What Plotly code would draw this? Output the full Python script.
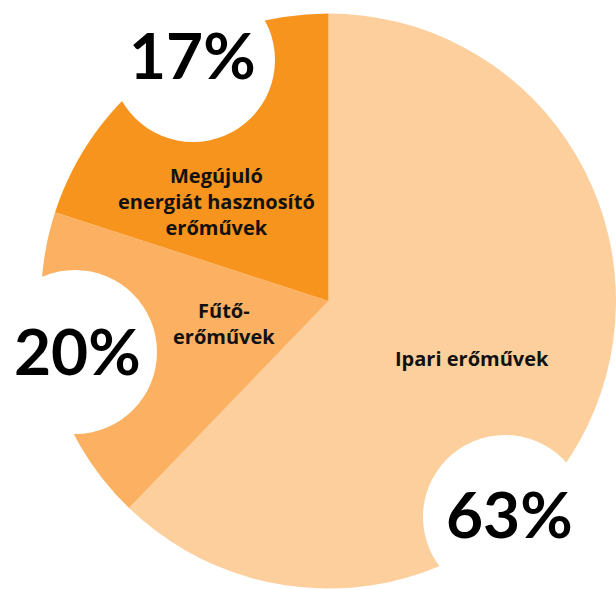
import plotly.graph_objects as go

W, H = 616, 590
OFF = 0  # page body margin is removed below, so figure pixels = screen pixels

# Data (slice sizes, printed percentages as labelled)
categories = ["Ipari erőművek", "Fűtő-<br>erőművek", "Megújuló<br>energiát hasznosító<br>erőművek"]
values = [62.2, 17.8, 20.0]
pct_labels = ["63%", "20%", "17%"]
colors = ["#FDCF9C", "#FBB062", "#F7941D"]


def px(x):
    return (x - OFF) / W


def py(y):
    return 1 - (y - OFF) / H


# pie placement (screen pixels): centre (329, 301), radius 288
PCX, PCY, PR = 329, 301, 288

fig = go.Figure()
fig.add_trace(go.Pie(
    labels=categories,
    values=values,
    sort=False,
    direction="clockwise",
    rotation=0,
    textinfo="none",
    hoverinfo="label+percent",
    marker=dict(colors=colors, line=dict(width=0)),
    domain=dict(x=[px(PCX - PR), min(1.0, px(PCX + PR))], y=[py(PCY + PR), py(PCY - PR)]),
    showlegend=False,
))

# layout positions (screen pixels)
label_pos = [(472, 358), (224, 323), (216, 201)]
bubble_pos = [(505, 517), (75, 352), (193, 60)]
pct_pos = [(509.5, 513), (78, 350), (192, 54)]
bubble_r = 82

shapes = []
annotations = []
for (cx, cy) in bubble_pos:
    shapes.append(dict(type="circle", xref="paper", yref="paper",
                       x0=px(cx - bubble_r), x1=px(cx + bubble_r),
                       y0=py(cy + bubble_r), y1=py(cy - bubble_r),
                       fillcolor="white", line=dict(width=0), layer="above"))

for txt, (cx, cy) in zip(pct_labels, pct_pos):
    annotations.append(dict(text="<b>" + txt + "</b>", x=px(cx), y=py(cy),
                            xref="paper", yref="paper", showarrow=False,
                            xanchor="center", yanchor="middle",
                            font=dict(family="Lato", size=64, color="#000000")))

for txt, (cx, cy) in zip(categories, label_pos):
    annotations.append(dict(text="<b>" + txt + "</b>", x=px(cx), y=py(cy),
                            xref="paper", yref="paper", showarrow=False,
                            xanchor="center", yanchor="middle", align="center",
                            font=dict(family="Open Sans", size=20, color="#111111")))

fig.update_layout(
    width=W, height=H,
    margin=dict(l=0, r=0, t=0, b=0),
    paper_bgcolor="white",
    plot_bgcolor="white",
    shapes=shapes,
    annotations=annotations,
)

fig.write_html("out.html",
               config={"displayModeBar": False},
               post_script="document.body.style.margin='0';document.body.style.overflow='hidden';")
